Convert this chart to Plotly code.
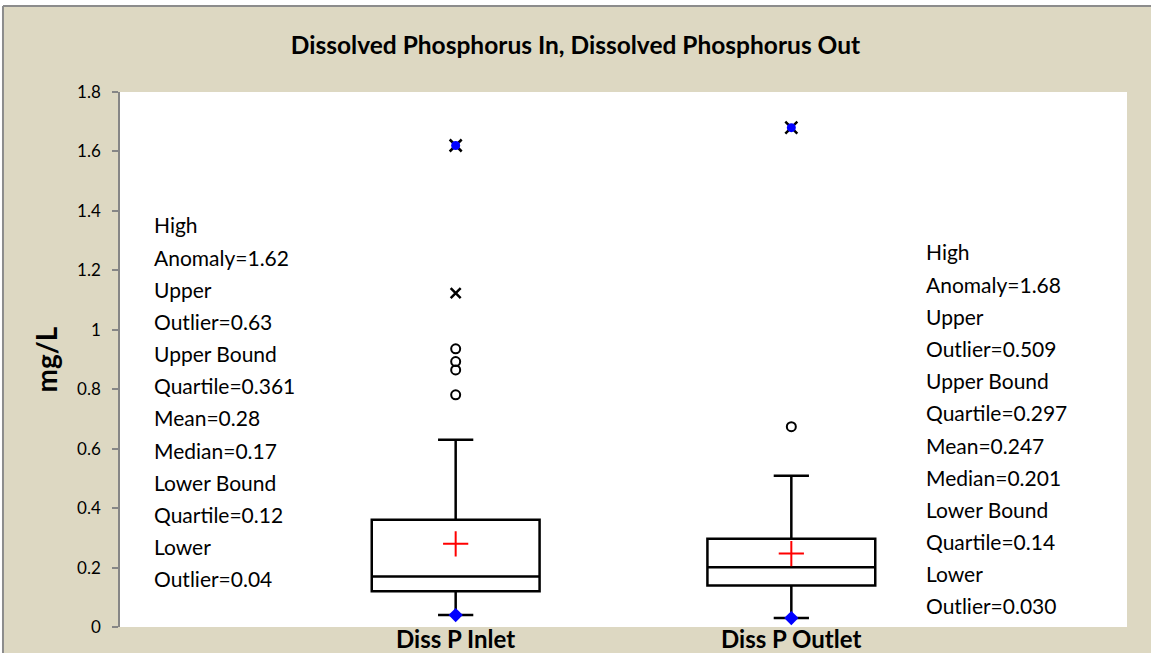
import plotly.graph_objects as go

# ---- data ----
categories = ["Diss P Inlet", "Diss P Outlet"]
positions = [1, 2]
lower_outlier = [0.04, 0.030]
lower_quartile = [0.12, 0.14]
median = [0.17, 0.201]
mean = [0.28, 0.247]
upper_quartile = [0.361, 0.297]
upper_outlier = [0.63, 0.509]
high_anomaly = [1.62, 1.68]
inlet_outliers = [0.936, 0.893, 0.865, 0.781]
outlet_outliers = [0.674]
inlet_extremes = [1.123]

left_labels = ["High", "Anomaly=1.62", "Upper", "Outlier=0.63", "Upper Bound",
               "Quartile=0.361", "Mean=0.28", "Median=0.17", "Lower Bound",
               "Quartile=0.12", "Lower", "Outlier=0.04"]
right_labels = ["High", "Anomaly=1.68", "Upper", "Outlier=0.509", "Upper Bound",
                "Quartile=0.297", "Mean=0.247", "Median=0.201", "Lower Bound",
                "Quartile=0.14", "Lower", "Outlier=0.030"]

FONT = "Lato, Calibri, 'Open Sans', sans-serif"
BEIGE = "#DDD8C2"
BORDER = "#8C8C8C"

fig = go.Figure()

for i in range(2):
    fig.add_trace(go.Box(
        x=[positions[i]], q1=[lower_quartile[i]], median=[median[i]],
        q3=[upper_quartile[i]], lowerfence=[lower_outlier[i]],
        upperfence=[upper_outlier[i]], width=0.5, whiskerwidth=0.21,
        fillcolor="white", line=dict(color="black", width=2.5),
        boxpoints=False, showlegend=False, hoverinfo="skip"))

# mean
fig.add_trace(go.Scatter(x=positions, y=mean, mode="markers", showlegend=False,
                         marker=dict(symbol="cross-thin", size=18, color="red",
                                     line=dict(color="red", width=2))))
# open-circle outliers
fig.add_trace(go.Scatter(x=[1] * len(inlet_outliers) + [2] * len(outlet_outliers),
                         y=inlet_outliers + outlet_outliers, mode="markers", showlegend=False,
                         marker=dict(symbol="circle-open", size=9, color="black",
                                     line=dict(color="black", width=2))))
# extreme outlier (x)
fig.add_trace(go.Scatter(x=[1] * len(inlet_extremes), y=inlet_extremes, mode="markers",
                         showlegend=False,
                         marker=dict(symbol="x-thin", size=10, color="black",
                                     line=dict(color="black", width=2.5))))
# high anomaly
fig.add_trace(go.Scatter(x=positions, y=high_anomaly, mode="markers", showlegend=False,
                         marker=dict(symbol="x-thin", size=12, color="black",
                                     line=dict(color="black", width=2.5))))
fig.add_trace(go.Scatter(x=positions, y=high_anomaly, mode="markers", showlegend=False,
                         marker=dict(symbol="circle", size=9, color="blue",
                                     line=dict(width=0))))
# lower outlier diamond
fig.add_trace(go.Scatter(x=positions, y=lower_outlier, mode="markers", showlegend=False,
                         marker=dict(symbol="diamond", size=11, color="blue",
                                     line=dict(width=0))))

# background frame (beige panel, gray top/left border, white plot area)
shapes = [
    dict(type="rect", xref="paper", yref="paper", x0=-0.1162, x1=1.5, y0=-0.3, y1=1.1607,
         fillcolor=BEIGE, line=dict(width=0), layer="below"),
    dict(type="line", xref="paper", yref="paper", x0=-0.1162, x1=1.5, y0=1.1607, y1=1.1607,
         line=dict(color=BORDER, width=2), layer="below"),
    dict(type="line", xref="paper", yref="paper", x0=-0.1162, x1=-0.1162, y0=-0.3, y1=1.1607,
         line=dict(color=BORDER, width=2), layer="below"),
    dict(type="rect", xref="paper", yref="paper", x0=0, x1=1, y0=0, y1=1,
         fillcolor="white", line=dict(width=0), layer="below"),
]

annotations = []
step = 0.1083
for j, t in enumerate(left_labels):
    annotations.append(dict(x=0.095, y=1.353 - j * step, xref="x", yref="y", text=t,
                            showarrow=False, xanchor="left", yanchor="middle",
                            font=dict(family=FONT, size=21, color="black")))
for j, t in enumerate(right_labels):
    annotations.append(dict(x=2.395, y=1.262 - j * step, xref="x", yref="y", text=t,
                            showarrow=False, xanchor="left", yanchor="middle",
                            font=dict(family=FONT, size=21, color="black")))
for p, c in zip(positions, categories):
    annotations.append(dict(x=p, y=-0.021, xref="x", yref="paper", text="<b>%s</b>" % c,
                            showarrow=False, xanchor="center", yanchor="middle",
                            font=dict(family=FONT, size=24, color="black")))
# y-axis title
annotations.append(dict(x=-0.0735, y=0.5, xref="paper", yref="paper", text="<b>mg/L</b>",
                        textangle=-90, showarrow=False, xanchor="center", yanchor="middle",
                        font=dict(family=FONT, size=28, color="black")))

fig.update_layout(
    width=1151, height=653,
    margin=dict(l=120, r=24, t=92, b=26, autoexpand=False),
    paper_bgcolor="white", plot_bgcolor="white",
    shapes=shapes, annotations=annotations,
    title=dict(text="<b>Dissolved Phosphorus In, Dissolved Phosphorus Out</b>",
               x=0.5, xref="container", xanchor="center", y=1 - 45 / 653, yanchor="middle",
               font=dict(family=FONT, size=24.5, color="black")),
    xaxis=dict(range=[0, 3], showticklabels=False,
               showgrid=False, zeroline=False, showline=False, ticks=""),
    yaxis=dict(range=[0, 1.8], dtick=0.2, showgrid=False, zeroline=False,
               showline=True, linecolor="#868686", linewidth=1.5,
               ticks="outside", ticklen=6, tickcolor="#868686", tickwidth=1.5,
               ticklabelstandoff=8,
               tickfont=dict(family=FONT, size=17, color="black")),
    font=dict(family=FONT),
)

fig.write_html("out.html", config={"displayModeBar": False},
               post_script=("document.body.style.margin='0';"
                            "document.body.style.overflow='hidden';"
                            "document.documentElement.style.overflow='hidden';"))
